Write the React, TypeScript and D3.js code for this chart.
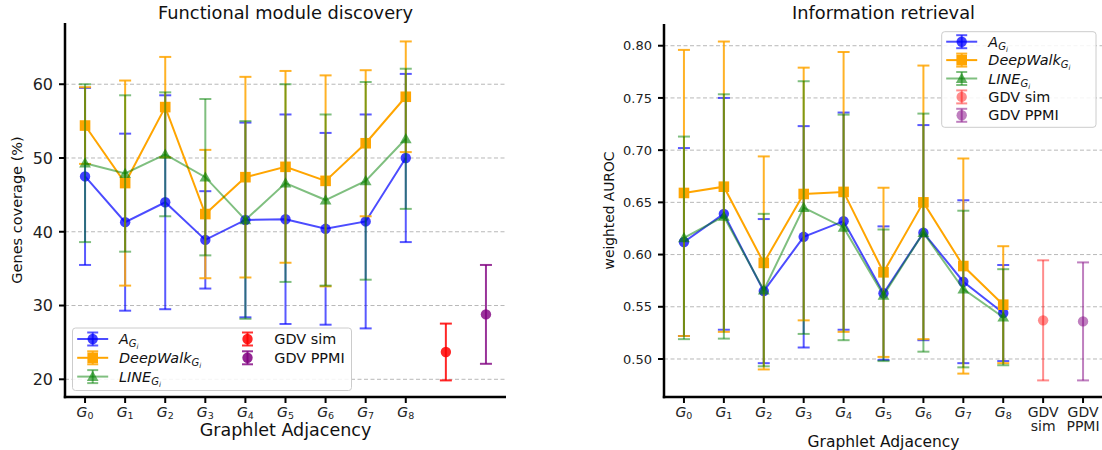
import React from "react";
import * as d3 from "d3";

// ---------- DATA ----------
const graphletIdx = [0, 1, 2, 3, 4, 5, 6, 7, 8];
const gdvLabels = ["GDV sim", "GDV PPMI"];

// Functional module discovery (Genes coverage %)
const fmA_mean = [47.5, 41.3, 44.0, 38.9, 41.6, 41.7, 40.4, 41.4, 50.0];
const fmA_err = [12.0, 12.0, 14.5, 6.6, 13.2, 14.2, 13.0, 14.5, 11.4];
const fmDW_mean = [54.4, 46.6, 56.9, 42.4, 47.4, 48.8, 46.9, 52.0, 58.3];
const fmDW_err = [5.2, 13.9, 6.8, 8.7, 13.6, 13.0, 14.3, 9.9, 7.5];
const fmLINE_mean = [49.3, 47.9, 50.5, 47.4, 41.6, 46.6, 44.3, 46.9, 52.6];
const fmLINE_err = [10.7, 10.6, 8.4, 10.6, 13.4, 13.4, 11.6, 13.4, 9.5];
const fmGDV_mean = [23.7, 28.8];
const fmGDV_err = [3.85, 6.7];
const fmYTicks = [20, 30, 40, 50, 60];

// Information retrieval (weighted AUROC)
const irA_mean = [0.612, 0.639, 0.565, 0.617, 0.632, 0.563, 0.621, 0.574, 0.544];
const irA_err = [0.09, 0.111, 0.069, 0.106, 0.104, 0.064, 0.103, 0.078, 0.046];
const irDW_mean = [0.659, 0.665, 0.592, 0.658, 0.66, 0.583, 0.65, 0.589, 0.552];
const irDW_err = [0.137, 0.139, 0.102, 0.121, 0.134, 0.081, 0.131, 0.103, 0.056];
const irLINE_mean = [0.616, 0.6365, 0.566, 0.645, 0.626, 0.561, 0.621, 0.567, 0.54];
const irLINE_err = [0.097, 0.117, 0.073, 0.121, 0.108, 0.063, 0.114, 0.075, 0.046];
const irGDV_mean = [0.537, 0.536];
const irGDV_err = [0.0575, 0.0565];
const irYTicks = [0.5, 0.55, 0.6, 0.65, 0.7, 0.75, 0.8];

const FONT = "DejaVu Sans, Liberation Sans, sans-serif";

type Shape = "circle" | "square" | "triangle";

function Marker({ x, y, shape, color, opacity }: { x: number; y: number; shape: Shape; color: string; opacity: number }) {
  if (shape === "circle") return <circle cx={x} cy={y} r={5.2} fill={color} fillOpacity={opacity} />;
  if (shape === "square") return <rect x={x - 5.3} y={y - 5.3} width={10.6} height={10.6} fill={color} fillOpacity={opacity} />;
  const p = d3.symbol().type(d3.symbolTriangle).size(60)()!;
  return <path d={p} transform={`translate(${x},${y + 1})`} fill={color} fillOpacity={opacity} />;
}

function ErrBar({ x, y1, y2, color, opacity, cap = 6 }: { x: number; y1: number; y2: number; color: string; opacity: number; cap?: number }) {
  return (
    <g stroke={color} strokeOpacity={opacity} strokeWidth={2}>
      <line x1={x} x2={x} y1={y1} y2={y2} />
      <line x1={x - cap} x2={x + cap} y1={y1} y2={y1} />
      <line x1={x - cap} x2={x + cap} y1={y2} y2={y2} />
    </g>
  );
}

interface SeriesDef {
  mean: number[];
  err: number[];
  color: string;
  shape: Shape;
  lineOp: number;
  markOp: number;
  errOp: number;
}

function GSub({ i }: { i: number }) {
  return (
    <>
      <tspan fontStyle="italic">G</tspan>
      <tspan fontSize="9.5" dy="2.5">{i}</tspan>
    </>
  );
}

function LegendLabel({ kind }: { kind: string }) {
  if (kind === "A" || kind === "DeepWalk" || kind === "LINE") {
    return (
      <>
        <tspan fontStyle="italic">{kind}</tspan>
        <tspan fontStyle="italic" fontSize="10" dy="3">G</tspan>
        <tspan fontStyle="italic" fontSize="7" dy="2">i</tspan>
      </>
    );
  }
  return <>{kind}</>;
}

function LegendHandle({ x, y, color, shape, lineOp, markOp, errOp, hasLine }: any) {
  return (
    <g>
      {hasLine && <line x1={x - 15.5} x2={x + 15.5} y1={y} y2={y} stroke={color} strokeOpacity={lineOp} strokeWidth={2} />}
      <ErrBar x={x} y1={y - 6.5} y2={y + 6.5} color={color} opacity={errOp} cap={5.5} />
      <Marker x={x} y={y} shape={shape} color={color} opacity={markOp} />
    </g>
  );
}

function Panel(props: {
  xRange: [number, number];
  yRange: [number, number];
  yDomain: [number, number];
  yTicks: number[];
  fmt: (d: number) => string;
  yTickFont: number;
  series: SeriesDef[];
  gdvMean: number[];
  gdvErr: number[];
  gdvColors: string[];
  gdvOps: number[];
  title: string;
  ylabel: string;
  ylabelX: number;
  ylabelFont: number;
  xlabelY: number;
  xlabelFont: number;
  gdvTickLabels: boolean;
  legend: React.ReactNode;
}) {
  const x = d3.scaleLinear().domain([-0.5, 10.5]).range(props.xRange);
  const y = d3.scaleLinear().domain(props.yDomain).range(props.yRange);
  const [x0, x1] = props.xRange;
  const [yb, yt] = props.yRange;
  const cx = (x0 + x1) / 2;
  const line = d3
    .line<number>()
    .x((_, i) => x(graphletIdx[i]))
    .y((d) => y(d));
  return (
    <g fontFamily={FONT}>
      {/* grid */}
      {props.yTicks.map((t) => (
        <line key={"g" + t} x1={x0} x2={x1} y1={y(t)} y2={y(t)} stroke="#b8b8b8" strokeWidth={1} strokeDasharray="4,2.5" />
      ))}
      {/* series */}
      {props.series.map((s, si) => (
        <g key={si}>
          {s.mean.map((m, i) => (
            <ErrBar key={i} x={x(graphletIdx[i])} y1={y(m - s.err[i])} y2={y(m + s.err[i])} color={s.color} opacity={s.errOp} />
          ))}
          <path d={line(s.mean)!} fill="none" stroke={s.color} strokeOpacity={s.lineOp} strokeWidth={2} />
          {s.mean.map((m, i) => (
            <Marker key={"m" + i} x={x(graphletIdx[i])} y={y(m)} shape={s.shape} color={s.color} opacity={s.markOp} />
          ))}
        </g>
      ))}
      {props.gdvMean.map((m, i) => (
        <g key={"gdv" + i}>
          <ErrBar x={x(9 + i)} y1={y(m - props.gdvErr[i])} y2={y(m + props.gdvErr[i])} color={props.gdvColors[i]} opacity={props.gdvOps[i]} />
          <Marker x={x(9 + i)} y={y(m)} shape="circle" color={props.gdvColors[i]} opacity={props.gdvOps[i]} />
        </g>
      ))}
      {/* axes */}
      <line x1={x0} x2={x0} y1={yb + 1.2} y2={yt} stroke="#000" strokeWidth={2.5} />
      <line x1={x0 - 1.2} x2={x1} y1={yb} y2={yb} stroke="#000" strokeWidth={2.5} />
      {props.yTicks.map((t) => (
        <g key={"yt" + t}>
          <line x1={x0 - 6} x2={x0} y1={y(t)} y2={y(t)} stroke="#000" strokeWidth={2} />
          <text x={x0 - 12} y={y(t)} dy="0.36em" textAnchor="end" fontSize={props.yTickFont} fill="#222">
            {props.fmt(t)}
          </text>
        </g>
      ))}
      {graphletIdx.map((g) => (
        <g key={"xt" + g}>
          <line x1={x(g)} x2={x(g)} y1={yb} y2={yb + 6} stroke="#000" strokeWidth={2} />
          <text x={x(g)} y={416.5} textAnchor="middle" fontSize={14} fill="#222">
            <GSub i={g} />
          </text>
        </g>
      ))}
      {props.gdvTickLabels &&
        gdvLabels.map((lab, i) => {
          const parts = lab.split(" ");
          return (
            <g key={"gl" + i}>
              <line x1={x(9 + i)} x2={x(9 + i)} y1={yb} y2={yb + 6} stroke="#000" strokeWidth={2} />
              <text x={x(9 + i)} y={416.5} textAnchor="middle" fontSize={14} fill="#222">
                {parts[0]}
              </text>
              <text x={x(9 + i)} y={431} textAnchor="middle" fontSize={14} fill="#222">
                {parts[1]}
              </text>
            </g>
          );
        })}
      <text x={cx} y={19} textAnchor="middle" fontSize={17.8} fill="#111">
        {props.title}
      </text>
      <text x={cx} y={props.xlabelY} textAnchor="middle" fontSize={props.xlabelFont} fill="#111">
        Graphlet Adjacency
      </text>
      <text
        transform={`translate(${props.ylabelX},${(yb + yt) / 2}) rotate(-90)`}
        textAnchor="middle"
        dy="0.35em"
        fontSize={props.ylabelFont}
        fill="#111"
      >
        {props.ylabel}
      </text>
      {props.legend}
    </g>
  );
}

export default function App() {
  const blue = "#0000ff";
  const orange = "#ffa500";
  const green = "#008000";
  const red = "#ff0000";
  const purple = "#800080";
  const mk = (mean: number[], err: number[], k: number): SeriesDef => {
    if (k === 0) return { mean, err, color: blue, shape: "circle", lineOp: 0.7, markOp: 0.75, errOp: 0.65 };
    if (k === 1) return { mean, err, color: orange, shape: "square", lineOp: 1, markOp: 1, errOp: 0.85 };
    return { mean, err, color: green, shape: "triangle", lineOp: 0.5, markOp: 0.6, errOp: 0.5 };
  };
  const leftSeries = [mk(fmA_mean, fmA_err, 0), mk(fmDW_mean, fmDW_err, 1), mk(fmLINE_mean, fmLINE_err, 2)];
  const rightSeries = [mk(irA_mean, irA_err, 0), mk(irDW_mean, irDW_err, 1), mk(irLINE_mean, irLINE_err, 2)];

  const legendEntries = [
    { kind: "A", s: leftSeries[0], hasLine: true },
    { kind: "DeepWalk", s: leftSeries[1], hasLine: true },
    { kind: "LINE", s: leftSeries[2], hasLine: true },
  ];

  const leftLegend = (
    <g fontFamily={FONT}>
      <rect x={72.5} y={328} width={279} height={62.5} rx={3} fill="#fff" fillOpacity={0.85} stroke="#cccccc" strokeWidth={1} />
      {legendEntries.map((e, i) => (
        <g key={i}>
          <LegendHandle x={92.7} y={339 + i * 18.8} color={e.s.color} shape={e.s.shape} lineOp={e.s.lineOp} markOp={e.s.markOp} errOp={e.s.errOp} hasLine />
          <text x={119} y={339 + i * 18.8} dy="0.36em" fontSize={14.4} fill="#111">
            <LegendLabel kind={e.kind} />
          </text>
        </g>
      ))}
      {gdvLabels.map((lab, i) => (
        <g key={"l" + i}>
          <LegendHandle x={247.5} y={339 + i * 18.8} color={i === 0 ? red : purple} shape="circle" lineOp={0} markOp={0.85} errOp={0.8} hasLine={false} />
          <text x={274.3} y={339 + i * 18.8} dy="0.36em" fontSize={14.4} fill="#111">
            {lab}
          </text>
        </g>
      ))}
    </g>
  );

  const rightLegend = (
    <g fontFamily={FONT}>
      <rect x={941.7} y={31.7} width={154.3} height={95.6} rx={3} fill="#fff" fillOpacity={0.85} stroke="#cccccc" strokeWidth={1} />
      {legendEntries.map((e, i) => (
        <g key={i}>
          <LegendHandle x={961.7} y={41.7 + i * 18.4} color={e.s.color} shape={e.s.shape} lineOp={e.s.lineOp} markOp={e.s.markOp} errOp={e.s.errOp} hasLine />
          <text x={988.3} y={41.7 + i * 18.4} dy="0.36em" fontSize={14.4} fill="#111">
            <LegendLabel kind={e.kind} />
          </text>
        </g>
      ))}
      {gdvLabels.map((lab, i) => (
        <g key={"r" + i}>
          <LegendHandle x={961.7} y={41.7 + (i + 3) * 18.4} color={i === 0 ? red : purple} shape="circle" lineOp={0} markOp={i === 0 ? 0.45 : 0.5} errOp={i === 0 ? 0.45 : 0.5} hasLine={false} />
          <text x={988.3} y={41.7 + (i + 3) * 18.4} dy="0.36em" fontSize={14.4} fill="#111">
            {lab}
          </text>
        </g>
      ))}
    </g>
  );

  return (
    <svg width={1102} height={450} style={{ position: "absolute", left: 0, top: 0, background: "#fff" }}>
      <rect x={0} y={0} width={1102} height={450} fill="#fff" />
      <Panel
        xRange={[65, 506]}
        yRange={[397, 23]}
        yDomain={[17.6, 68.3]}
        yTicks={fmYTicks}
        fmt={(d) => String(d)}
        yTickFont={16}
        series={leftSeries}
        gdvMean={fmGDV_mean}
        gdvErr={fmGDV_err}
        gdvColors={[red, purple]}
        gdvOps={[0.85, 0.8]}
        title="Functional module discovery"
        ylabel="Genes coverage (%)"
        ylabelX={17}
        ylabelFont={14.5}
        xlabelY={436}
        xlabelFont={17.5}
        gdvTickLabels={false}
        legend={leftLegend}
      />
      <Panel
        xRange={[664, 1103]}
        yRange={[397, 24]}
        yDomain={[0.4636, 0.8208]}
        yTicks={irYTicks}
        fmt={d3.format(".2f")}
        yTickFont={13}
        series={rightSeries}
        gdvMean={irGDV_mean}
        gdvErr={irGDV_err}
        gdvColors={[red, purple]}
        gdvOps={[0.45, 0.5]}
        title="Information retrieval"
        ylabel="weighted AUROC"
        ylabelX={609}
        ylabelFont={13.8}
        xlabelY={447}
        xlabelFont={15.5}
        gdvTickLabels={true}
        legend={rightLegend}
      />
    </svg>
  );
}
